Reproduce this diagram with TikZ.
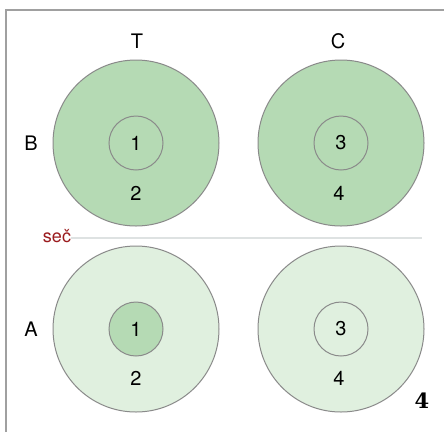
\documentclass[tikz,border=0pt]{standalone}
\usepackage{fontspec}
\setsansfont{TeX Gyre Heros}
\newfontfamily\figfont{DejaVu Serif}
\usetikzlibrary{positioning}
\definecolor{fullgreen}{RGB}{181,218,180}
\definecolor{palegreen}{RGB}{224,240,223}
\definecolor{rimgray}{RGB}{138,138,138}
\definecolor{framegray}{RGB}{160,160,160}
\definecolor{cutgray}{RGB}{222,226,226}
\definecolor{secred}{RGB}{155,27,30}
\tikzset{
    x=1pt,
    y=-1pt,
    dish/.style = {
        draw=rimgray,
        shape=circle,
        minimum size=166pt,
        inner sep=0pt,
        line width=1pt
    },
    well/.style = {
        draw=rimgray,
        shape=circle,
        minimum size=54pt,
        inner sep=0pt,
        line width=1pt,
        font=\sffamily\fontsize{20}{20}\selectfont
    },
    tag/.style = {
        shape=rectangle,
        inner sep=0pt,
        font=\sffamily\fontsize{20}{20}\selectfont
    },
}

\begin{document}
\begin{tikzpicture}
                \useasboundingbox[fill=white] (0,0) rectangle (444,432);
                \path[draw, framegray, line width=1.4pt] (6,432) -- (6,10) -- (444,10);

                % upper row (B)
                \node[dish, fill=fullgreen] (bt) at (136,143) {};
                \node[dish, fill=fullgreen] (bc) at (341,143) {};
                \node[well, fill=fullgreen] (bt1) at (136,143) {1};
                \node[well, fill=fullgreen] (bc3) at (341,143) {3};
                \node[tag] (bt2) at (136,193) {2};
                \node[tag] (bc4) at (339,193) {4};

                % lower row (A)
                \node[dish, fill=palegreen] (at) at (136,329) {};
                \node[dish, fill=palegreen] (ac) at (341,329) {};
                \node[well, fill=fullgreen] (at1) at (136,329) {1};
                \node[well, fill=palegreen] (ac3) at (341,329) {3};
                \node[tag] (at2) at (136,378) {2};
                \node[tag] (ac4) at (339,378) {4};

                \node[tag] (t) at (137,41) {T};
                \node[tag] (c) at (338,41) {C};
                \node[tag] (b) at (31,143) {B};
                \node[tag] (a) at (31,329) {A};

                \node[tag, secred, font=\sffamily\fontsize{18}{18}\selectfont] (sec) at (57,236) {seč};
                \coordinate (cutend) at (422,238);
                \path[draw, cutgray, line width=1.6pt] (sec.east |- cutend) -- (cutend);

                \node[tag, font=\figfont\bfseries\fontsize{21}{21}\selectfont] (fig) at (422,401) {4};
            \end{tikzpicture}
\end{document}
